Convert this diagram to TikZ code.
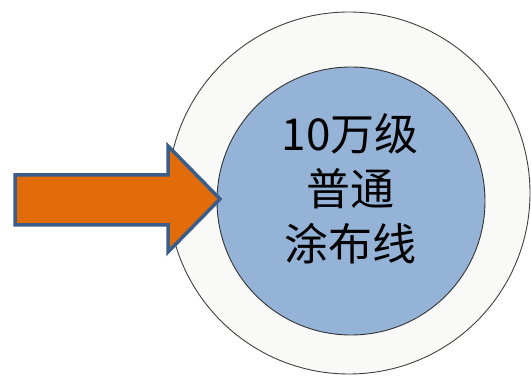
\documentclass[tikz,border=0pt]{standalone}
\usepackage{fontspec}
\newfontfamily\cjk{Noto Sans CJK SC}
\definecolor{ringgray}{HTML}{F9F9F8}
\definecolor{coreblue}{HTML}{95B3D7}
\definecolor{arroworange}{HTML}{E36C0A}
\definecolor{arrowblue}{HTML}{3A5D8A}
\tikzset{
	ring/.style={circle,draw=black!75,line width=0.9pt,fill=ringgray,inner sep=0pt},
	core/.style={circle,draw=black!80,line width=0.9pt,fill=coreblue,inner sep=0pt},
	label/.style={align=center,font=\cjk\fontsize{44}{55}\selectfont}
}
\begin{document}
\begin{tikzpicture}[x=1pt,y=-1pt]
	\useasboundingbox (0,0) rectangle (531,379);
	\node [ring,minimum size=362pt] (outer) at (349,193) {};
	\node [core,minimum size=268pt] (inner) at (351,201) {};
	\node [label] (name) at (350,189) {10万级\\普通\\涂布线};
	% arrow
	\draw [arrowblue,line width=3.5pt,fill=arroworange,line join=miter]
	(15,175) -- (168,175) -- (168,146) -- (220,199) -- (168,252) -- (168,225) -- (15,225) -- cycle;
\end{tikzpicture}
\end{document}
